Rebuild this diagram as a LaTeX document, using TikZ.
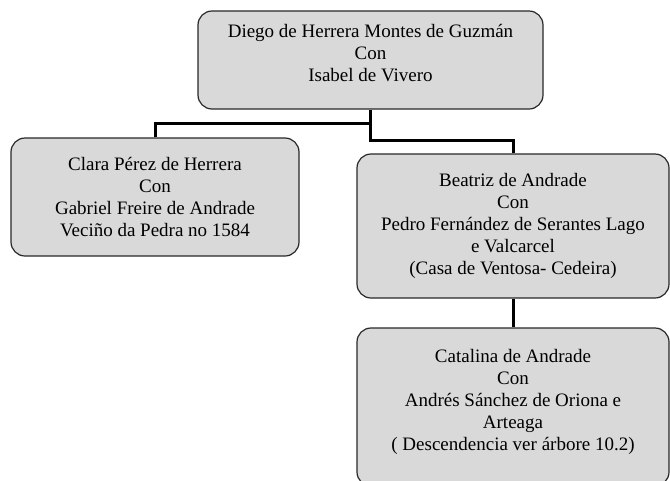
\documentclass[tikz,border=0pt]{standalone}
\usepackage{fontspec}
\setmainfont{Liberation Serif}
\usepackage{xcolor}
\usetikzlibrary{positioning,calc}
\definecolor{boxgray}{RGB}{217,217,217}
\definecolor{edgegray}{RGB}{40,40,40}

\begin{document}
\begin{tikzpicture}[
    x=1pt, y=-1pt,
    person/.style={rectangle, rounded corners=14pt, draw=edgegray, fill=boxgray, line width=1.2pt, align=center, inner sep=0pt, font=\fontsize{19}{22}\selectfont},
    raised/.style={text depth=14pt},
    link/.style={line width=3pt, color=black}
]
\useasboundingbox (0,0) rectangle (670,480);

% Parents
\node[person, raised, minimum width=345pt, minimum height=98pt] (diego) at (370.5,60) {Diego de Herrera Montes de Guzmán\\Con\\Isabel de Vivero};

% Children
\node[person, minimum width=288pt, minimum height=118pt] (clara) at (155,197) {Clara Pérez de Herrera\\Con\\Gabriel Freire de Andrade\\Veciño da Pedra no 1584};
\node[person, minimum width=312pt, minimum height=144pt] (beatriz) at (513,226) {Beatriz de Andrade\\Con\\Pedro Fernández de Serantes Lago\\e Valcarcel\\(Casa de Ventosa- Cedeira)};

% Grandchild
\node[person, raised, minimum width=312pt, minimum height=158pt] (catalina) at (513,407) {Catalina de Andrade\\Con\\Andrés Sánchez de Oriona e\\Arteaga\\( Descendencia ver árbore 10.2)};

% Lines
\draw[link] (diego.south) -- ++(0,14) -| (clara.north);
\draw[link] (diego.south) -- ++(0,31) -| (beatriz.north);
\draw[link] (beatriz.south) -- (catalina.north);

\end{tikzpicture}
\end{document}
